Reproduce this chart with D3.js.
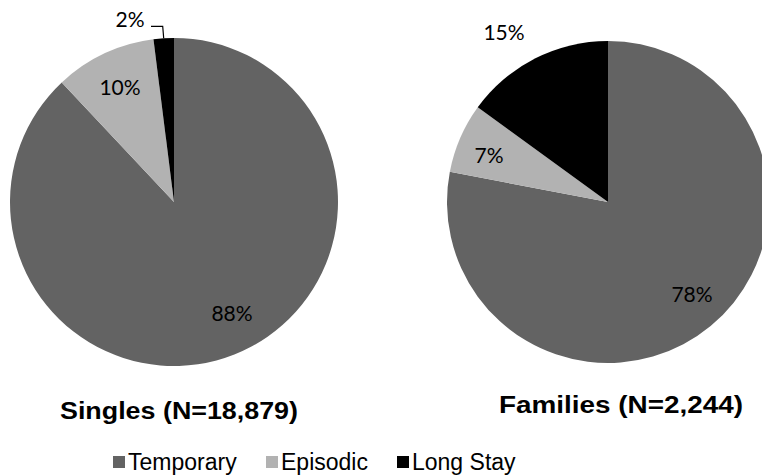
<!DOCTYPE html>
<html>
<head>
<meta charset="utf-8">
<script src="https://cdn.jsdelivr.net/npm/d3@7"></script>
<style>
  html, body { margin: 0; padding: 0; background: #fff; }
  svg { display: block; }
</style>
</head>
<body>
<svg id="chart" width="762" height="475"></svg>
<script>
const categories = ["Temporary", "Episodic", "Long Stay"];
const singlesValues = [88, 10, 2];
const familiesValues = [78, 7, 15];
const pieTitles = ["Singles (N=18,879)", "Families (N=2,244)"];
const colors = ["#636363", "#b2b2b2", "#000000"];

const svg = d3.select("#chart");

const color = d3.scaleOrdinal().domain(categories).range(colors);
const pie = d3.pie().sort(null).value(d => d.value);

const pies = [
  { values: singlesValues, cx: 174, cy: 202, r: 164, title: pieTitles[0], tx: 179, ty: 419, tw: 238,
    labels: [{dx: 58, dy: 119}, {dx: -54, dy: -107}, {dx: -44, dy: -175}] },
  { values: familiesValues, cx: 608, cy: 202, r: 161, title: pieTitles[1], tx: 621, ty: 413, tw: 244,
    labels: [{dx: 84, dy: 100}, {dx: -119, dy: -39}, {dx: -104, dy: -162}] }
];

pies.forEach((p) => {
  const data = categories.map((c, i) => ({ cat: c, value: p.values[i] }));
  const arcs = pie(data);
  const arc = d3.arc().innerRadius(0).outerRadius(p.r);
  const g = svg.append("g").attr("transform", `translate(${p.cx},${p.cy})`);
  g.selectAll("path").data(arcs).join("path")
    .attr("d", arc)
    .attr("fill", d => color(d.data.cat));

  g.selectAll("text.lbl").data(arcs).join("text")
    .attr("class", "lbl")
    .attr("x", (d, i) => p.labels[i].dx)
    .attr("y", (d, i) => p.labels[i].dy)
    .attr("text-anchor", "middle")
    .attr("font-family", "Lato, 'Open Sans', sans-serif")
    .attr("font-size", 21)
    .attr("fill", "#000")
    .text(d => d.data.value + "%");

  svg.append("text")
    .attr("x", p.tx).attr("y", p.ty)
    .attr("text-anchor", "middle")
    .attr("font-family", "'Liberation Sans', Arial, sans-serif")
    .attr("font-weight", "bold")
    .attr("font-size", 23)
    .attr("textLength", p.tw)
    .attr("lengthAdjust", "spacingAndGlyphs")
    .attr("fill", "#000")
    .text(p.title);
});

// leader line for small 2% slice of Singles
{
  const p = pies[0];
  const a = pie(categories.map((c, i) => ({ cat: c, value: p.values[i] })))[2];
  const mid = (a.startAngle + a.endAngle) / 2;
  const ex = p.cx + Math.sin(mid) * p.r;
  const ey = p.cy - Math.cos(mid) * p.r;
  svg.append("path")
    .attr("d", `M${p.cx - 23},${ey - 12} L${ex - 1},${ey - 12} L${ex},${ey}`)
    .attr("fill", "none").attr("stroke", "#000").attr("stroke-width", 1.2);
}

// legend
const legendItems = [
  { cat: categories[0], x: 113 },
  { cat: categories[1], x: 266 },
  { cat: categories[2], x: 397 }
];
const lg = svg.append("g");
legendItems.forEach(it => {
  lg.append("rect").attr("x", it.x).attr("y", 456).attr("width", 12).attr("height", 12)
    .attr("fill", color(it.cat));
  lg.append("text").attr("x", it.x + 15).attr("y", 470)
    .attr("font-family", "'Liberation Sans', Arial, sans-serif")
    .attr("font-size", 23).attr("fill", "#000")
    .text(it.cat);
});
</script>
</body>
</html>
